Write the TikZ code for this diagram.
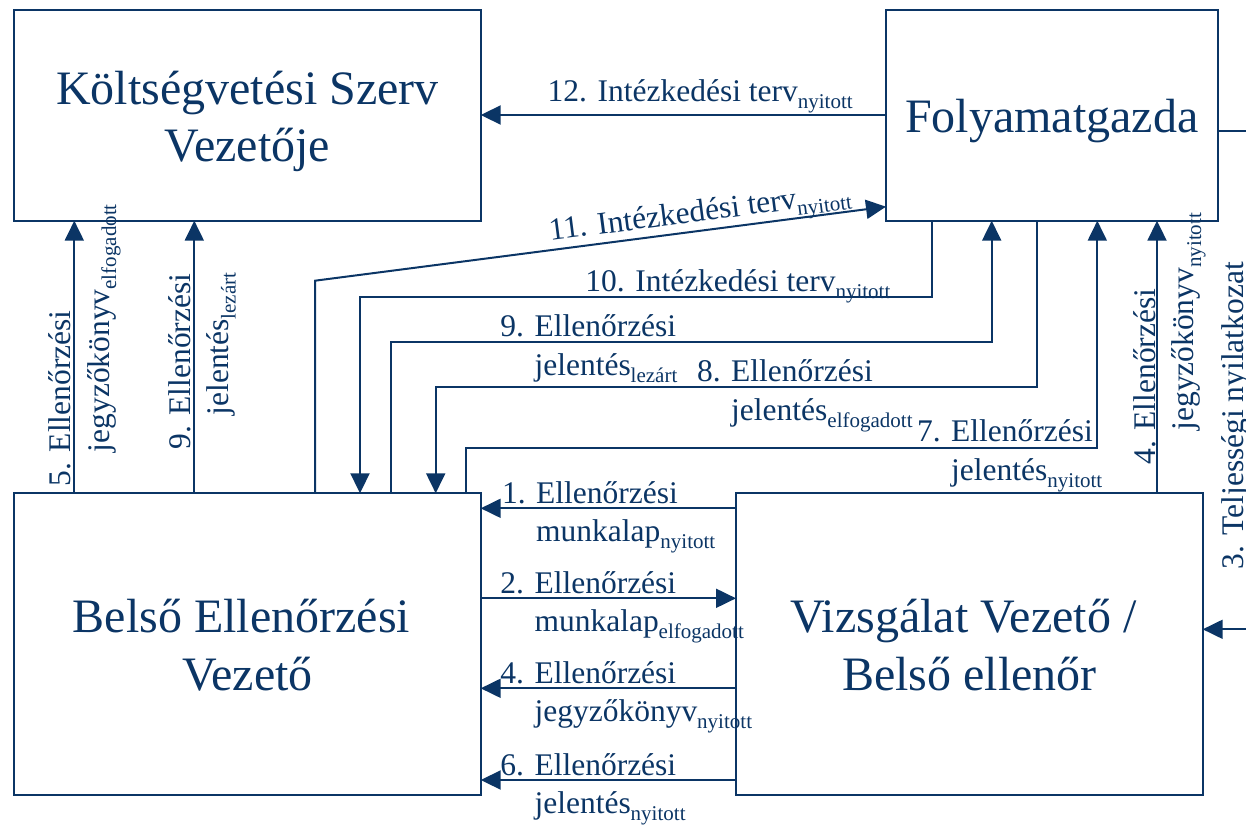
\documentclass[tikz,border=0pt]{standalone}
\usepackage{fontspec}
\setmainfont{Liberation Serif}
\usetikzlibrary{arrows.meta}
\definecolor{navy}{RGB}{11,53,101}
\newcommand\sbs[1]{\raisebox{-3.6pt}{\fontsize{10.5}{12}\selectfont #1}}
\begin{document}
\begin{tikzpicture}[x=0.5pt,y=-0.5pt,
  box/.style={draw=navy, line width=1pt, inner sep=0pt, outer sep=0pt, rectangle},
  title/.style={text=navy, font=\fontsize{24}{28.85}\selectfont, align=center, anchor=base, inner sep=0pt},
  lab/.style={text=navy, font=\fontsize{15.75}{19.15}\selectfont, align=left, anchor=base west, inner sep=0pt},
  conn/.style={draw=navy, line width=1pt},
  arr/.style={conn, -{Triangle[length=10pt,width=9.5pt]}}]
\useasboundingbox (0,0) rectangle (1246,824);
% boxes
\node[box, minimum width=233.35pt, minimum height=105.35pt] (ksz) at (247.35,115.35) {};
\node[box, minimum width=165.85pt, minimum height=105.35pt] (fg) at (1051.85,115.35) {};
\node[box, minimum width=233.35pt, minimum height=150.85pt] (bev) at (247.35,644.15) {};
\node[box, minimum width=233.35pt, minimum height=150.85pt] (vv) at (969.35,644.15) {};
% titles (anchor = baseline of last line)
\node[title] (kszT) at (247.35,161.7) {Költségvetési Szerv\\Vezetője};
\node[title] (fgT) at (1051.85,133) {Folyamatgazda};
\node[title] (bevT) at (247.35,690) {Belső Ellenőrzési\hspace*{0.25em}\\Vezető};
\node[title] (vvT) at (969.35,690) {Vizsgálat Vezető /\hspace*{0.25em}\\Belső ellenőr};
% free ends
\coordinate (rs) at (1246,130.7);
\coordinate (a3) at (1246,629.3);
% connectors between bottom boxes
\draw[arr] (vv.west |- 0,508.3) -- (bev.east |- 0,508.3);
\draw[arr] (bev.east |- 0,598.3) -- (vv.west |- 0,598.3);
\draw[arr] (vv.west |- 0,688.3) -- (bev.east |- 0,688.3);
\draw[arr] (vv.west |- 0,780) -- (bev.east |- 0,780);
% BEV up to KSZ
\draw[arr] (bev.north -| 74.3,0) -- (ksz.south -| 74.3,0);
\draw[arr] (bev.north -| 194.3,0) -- (ksz.south -| 194.3,0);
% 12
\draw[arr] (fg.west |- 0,115) -- (ksz.east |- 0,115);
% 11
\draw[arr] (bev.north -| 315,0) -- (315,280.7) -- (fg.west |- 0,206.7);
% 10
\draw[arr] (fg.south -| 931.7,0) -- (931.7,296.7) -- (360,296.7) -- (bev.north -| 360,0);
% 9
\draw[arr] (bev.north -| 390.7,0) -- (390.7,341.7) -- (991.7,341.7) -- (fg.south -| 991.7,0);
% 8
\draw[arr] (fg.south -| 1036.7,0) -- (1036.7,386.7) -- (435.7,386.7) -- (bev.north -| 435.7,0);
% 7
\draw[arr] (bev.north -| 465.7,0) -- (465.7,447.7) -- (1097.3,447.7) -- (fg.south -| 1097.3,0);
% 4 vertical
\draw[arr] (vv.north -| 1157,0) -- (fg.south -| 1157,0);
% right stubs
\draw[conn] (fg.east |- rs) -- (rs);
\draw[arr] (a3) -- (vv.east |- a3);
% labels (anchor = baseline of last line)
\node[lab] (l1) at (501.7,541.6) {1. Ellenőrzési\\\hphantom{1. }munkalap\sbs{nyitott}};
\node[lab] (l2) at (500,631.6) {2. Ellenőrzési\\\hphantom{2. }munkalap\sbs{elfogadott}};
\node[lab] (l4) at (500,721.6) {4. Ellenőrzési\\\hphantom{4. }jegyzőkönyv\sbs{nyitott}};
\node[lab] (l6) at (500,813.3) {6. Ellenőrzési\\\hphantom{6. }jelentés\sbs{nyitott}};
\node[lab] (l12) at (547.3,101.7) {12. Intézkedési terv\sbs{nyitott}};
\node[lab, rotate=7.38] (l11) at (550,240.7) {11. Intézkedési terv\sbs{nyitott}};
\node[lab] (l10) at (585,291.7) {10. Intézkedési terv\sbs{nyitott}};
\node[lab] (l9) at (500,375) {9. Ellenőrzési\\\hphantom{9. }jelentés\sbs{lezárt}};
\node[lab] (l8) at (696.7,420) {8. Ellenőrzési\\\hphantom{8. }jelentés\sbs{elfogadott}};
\node[lab] (l7) at (916.7,480) {7. Ellenőrzési\\\hphantom{7. }jelentés\sbs{nyitott}};
\node[lab, rotate=90] (l5) at (109,486.7) {5. Ellenőrzési\\\hphantom{5. }jegyzőkönyv\sbs{elfogadott}};
\node[lab, rotate=90] (l9v) at (228.3,450) {9. Ellenőrzési\\\hphantom{9. }jelentés\sbs{lezárt}};
\node[lab, rotate=90] (l4v) at (1193.8,465) {4. Ellenőrzési\\\hphantom{4. }jegyzőkönyv\sbs{nyitott}};
\node[lab, rotate=90] (l3) at (1243.3,570) {3. Teljességi nyilatkozat};
\end{tikzpicture}
\end{document}
